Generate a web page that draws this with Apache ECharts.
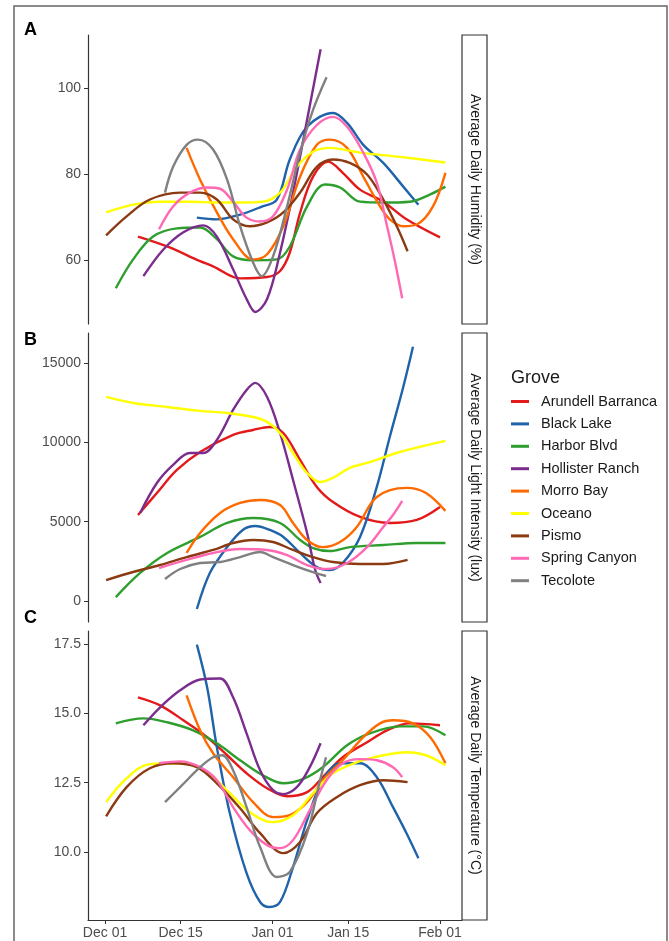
<!DOCTYPE html>
<html>
<head>
<meta charset="utf-8">
<script src="https://cdn.jsdelivr.net/npm/echarts@6/dist/echarts.min.js"></script>
<style>
  html, body { margin: 0; padding: 0; background: #fff; }
  #chart { width: 669px; height: 941px; }
</style>
</head>
<body>
<div id="chart"></div>
<script>
// days counted from Dec 01
const groves = ["Arundell Barranca", "Black Lake", "Harbor Blvd", "Hollister Ranch", "Morro Bay", "Oceano", "Pismo", "Spring Canyon", "Tecolote"]
const colors = ["#e31a1c", "#1f63ab", "#2e9e2e", "#7b2d8e", "#ff6a00", "#ffff00", "#8b3a12", "#ff69b4", "#808080"]
const tickDays = [0, 14, 31, 45, 62]
const tickLabels = ["Dec 01", "Dec 15", "Jan 01", "Jan 15", "Feb 01"]
const panelTitles = ["Average Daily Humidity (%)", "Average Daily Light Intensity (lux)", "Average Daily Temperature (°C)"]
const humTicks = [60, 80, 100]
const luxTicks = [0, 5000, 10000, 15000]
const tempTicks = [10, 12.5, 15, 17.5]

// A: humidity
const humArundell = [[6.1, 65.5], [11.5, 63.2], [17.6, 59.8], [20, 58.6], [25, 55.8], [30, 56.1], [32.4, 57.5], [34.2, 61.8], [36.1, 71], [38.5, 79.4], [41.3, 82.9], [44, 80.3], [47.2, 76.4], [51.5, 73.6], [55.8, 69.5], [62, 65.3]]
const humBlackLake = [[17, 69.9], [20.7, 69.5], [25, 70.6], [28.7, 72.3], [31.8, 74.1], [34.2, 83.4], [37.4, 91], [42.2, 94.2], [44.8, 91.9], [47.8, 86.8], [51.5, 82.6], [55.2, 77.1], [58, 72.9]]
const humHarbor = [[2, 53.5], [5.2, 60.2], [8.9, 65.5], [13.3, 67.4], [17.6, 67.6], [20.7, 64.9], [23.7, 60.9], [27.4, 60], [31.8, 60.2], [34.2, 63.2], [37.4, 72.5], [40.7, 77.6], [43.5, 76.9], [47.2, 73.6], [51.5, 73.4], [56.4, 73.6], [60.2, 75.3], [63, 77.1]]
const humHollister = [[7.1, 56.3], [10.8, 62.5], [14.5, 66.5], [18.2, 68.1], [20.7, 65.5], [23.7, 57.9], [26.2, 51], [27.8, 48], [30, 51], [32.4, 61.8], [34.8, 75.7], [37.4, 92.6], [39.9, 109]]
const humMorro = [[15.1, 86.1], [17.6, 78.7], [20.7, 71.1], [23.7, 64.9], [27.4, 60.2], [30, 61.4], [33, 67.9], [36.1, 79.4], [39.2, 86.8], [41.6, 88], [44.8, 86.1], [47.8, 79.4], [50.9, 72.5], [52.7, 69.5], [55.2, 67.9], [57.7, 68.3], [60.7, 72.5], [63, 80.3]]
const humOceano = [[0.2, 71.1], [5.2, 72.9], [10.2, 73.6], [15.7, 73.6], [20.7, 73.4], [25, 73.4], [29.2, 73.6], [32.4, 75.7], [35.5, 81.7], [38.5, 85.2], [41.6, 86.1], [47.2, 85], [54.6, 84], [63, 82.7]]
const humPismo = [[0.2, 65.8], [4, 70.2], [8.3, 74.1], [13.9, 75.7], [17.6, 75.7], [20.7, 74.1], [23.7, 69.5], [26.8, 67.9], [30, 68.8], [33, 71.1], [36.1, 75.7], [39.2, 81.7], [42.2, 83.4], [45.3, 82.6], [48.5, 79.9], [51.5, 74.1], [54, 67.9], [56, 62.1]]
const humSpring = [[10, 67.2], [12.6, 72.5], [15.7, 75.7], [18.9, 76.9], [21.3, 76.6], [23.7, 73.6], [26.2, 69.9], [28.7, 69], [31.1, 70.2], [33.7, 76.4], [36.1, 85.7], [39.2, 91.4], [42.2, 93.3], [44.8, 91], [47.8, 85], [50.3, 78], [52.2, 67.9], [53.7, 59.5], [55, 51.2]]
const humTecolote = [[11.1, 75.7], [12.6, 81.7], [15.1, 86.8], [17.2, 88], [20, 85.7], [22.6, 78.7], [25, 67.9], [27.4, 59.5], [29, 56.3], [31.1, 60.9], [33.7, 72.5], [36.1, 85], [38.5, 94.9], [41, 102.5]]

// B: light intensity
const luxArundell = [[6.1, 5420], [9.6, 6810], [13.3, 8260], [17.6, 9390], [23.7, 10470], [27.4, 10780], [30.5, 10970], [33, 10590], [36.1, 8890], [39.2, 7190], [42.2, 6240], [47.2, 5300], [52.7, 4920], [57.7, 5110], [62, 5930]]
const luxBlackLake = [[17, -500], [19.4, 1770], [22.6, 3400], [25.5, 4480], [27.8, 4730], [30.5, 4480], [33, 4040], [36.1, 3030], [39.2, 2140], [41.6, 1960], [44, 2400], [47.2, 4040], [50.3, 7190], [52.7, 10340], [55.2, 13490], [57, 16020]]
const luxHarbor = [[2, 250], [6.5, 1770], [11.5, 3030], [17.6, 4040], [22.6, 4920], [27.4, 5230], [32.4, 4920], [36.1, 3850], [38.5, 3340], [41.6, 3150], [45.3, 3400], [51.5, 3530], [57.7, 3660], [63, 3660]]
const luxHollister = [[6.5, 5550], [9.6, 7440], [12.6, 8580], [15.7, 9330], [18.2, 9330], [20.7, 10150], [23.7, 12040], [26.2, 13300], [27.8, 13750], [30, 12860], [32.4, 10590], [34.8, 7630], [37.4, 4290], [38.9, 1960], [39.9, 1140]]
const luxMorro = [[15.1, 3030], [17.6, 4290], [21.3, 5550], [25, 6180], [28.7, 6370], [32.4, 6050], [34.8, 4920], [37.4, 3850], [40.3, 3400], [43.5, 3720], [46.6, 4670], [50.3, 6560], [55.8, 7130], [59.4, 6810], [63, 5680]]
const luxOceano = [[0.2, 12860], [5.2, 12480], [11.5, 12230], [17.6, 11980], [22.6, 11850], [27.4, 11600], [30, 11290], [32.4, 10590], [34.8, 9330], [37.4, 8070], [39.8, 7500], [42.2, 7760], [45.3, 8390], [48.5, 8700], [54.6, 9390], [63, 10090]]
const luxPismo = [[0.2, 1320], [5.2, 1830], [10.2, 2270], [15.1, 2770], [20, 3220], [23.7, 3660], [27.4, 3850], [31.1, 3720], [34.8, 3220], [38.5, 2770], [42.2, 2460], [47.2, 2330], [51.5, 2330], [56, 2590]]
const luxSpring = [[10, 2080], [15.1, 2590], [20, 3030], [25, 3280], [30, 3220], [33.7, 2900], [37.4, 2270], [41, 2020], [44.8, 2400], [48.5, 3400], [51.5, 4670], [53.3, 5420], [55, 6310]]
const luxTecolote = [[11.1, 1390], [13.9, 2020], [17.6, 2400], [21.3, 2460], [25, 2770], [28.7, 3090], [31.1, 2770], [34.8, 2270], [37.9, 1890], [40.9, 1580]]

// C: temperature
const tempArundell = [[6.1, 15.58], [10.2, 15.29], [14.5, 14.75], [18.9, 14.14], [22.6, 13.49], [26.2, 12.84], [30, 12.3], [33.7, 12.01], [37.4, 12.16], [40.3, 12.7], [44, 13.42], [48.5, 13.96], [52.2, 14.39], [56.4, 14.64], [62, 14.57]]
const tempBlackLake = [[17, 17.48], [18.9, 15.94], [20.7, 13.78], [23.1, 11.4], [26.2, 9.24], [28.7, 8.2], [30.4, 8.02], [32.4, 8.2], [34.8, 9.46], [37.4, 11.15], [40.3, 12.59], [43.5, 13.2], [47.2, 13.2], [50.3, 12.7], [53.3, 11.62], [55.8, 10.68], [58, 9.78]]
const tempHarbor = [[2, 14.64], [7.1, 14.82], [11.5, 14.68], [16.3, 14.39], [20.7, 13.92], [25, 13.31], [29.2, 12.77], [33, 12.48], [36.6, 12.63], [40.3, 13.06], [44.8, 13.85], [49, 14.28], [54.6, 14.53], [58.9, 14.53], [63, 14.21]]
const tempHollister = [[7.1, 14.57], [10.2, 15.22], [13.9, 15.83], [17.6, 16.22], [21.3, 16.26], [23.7, 15.58], [26.2, 14.28], [28.7, 12.95], [31.1, 12.23], [33, 12.09], [35.5, 12.34], [37.9, 13.06], [39.9, 13.92]]
const tempMorro = [[15.1, 15.65], [17.6, 14.39], [20, 13.56], [23.7, 12.7], [27.4, 11.8], [31.1, 11.26], [34.2, 11.33], [37.4, 11.8], [40.3, 12.59], [44, 13.31], [47.8, 14.14], [50.9, 14.64], [53.3, 14.75], [57, 14.64], [60.2, 14.14], [63, 13.2]]
const tempOceano = [[0.2, 11.8], [4, 12.66], [8.3, 13.17], [13.9, 13.2], [18.9, 12.88], [23.1, 12.12], [26.8, 11.44], [30.9, 11.08], [34.8, 11.33], [38.5, 12.12], [42.2, 12.84], [46.6, 13.24], [51.5, 13.49], [55.8, 13.6], [59.4, 13.49], [63, 13.13]]
const tempPismo = [[0.2, 11.29], [4, 12.34], [8.3, 13.02], [12.6, 13.2], [17, 13.06], [20.7, 12.48], [25, 11.58], [28.7, 10.68], [33, 9.96], [36.1, 10.36], [39.2, 11.4], [42.9, 11.98], [47.2, 12.41], [51.5, 12.59], [56, 12.52]]
const tempSpring = [[10, 13.2], [13.9, 13.27], [17.6, 13.06], [20.7, 12.59], [23.7, 11.62], [26.8, 10.79], [30, 10.25], [32.4, 10.14], [34.8, 10.43], [37.9, 11.51], [41, 12.59], [44, 13.2], [47.2, 13.35], [50.3, 13.31], [53.3, 13.06], [55, 12.7]]
const tempTecolote = [[11.1, 11.8], [13.9, 12.34], [17.6, 13.06], [20, 13.42], [21.7, 13.49], [23.7, 12.95], [26.2, 11.62], [28.7, 10.18], [31.8, 9.1], [34.2, 9.28], [37.4, 10.68], [39.8, 12.59], [40.9, 13.42]]

const panels = [
  [humArundell, humBlackLake, humHarbor, humHollister, humMorro, humOceano, humPismo, humSpring, humTecolote],
  [luxArundell, luxBlackLake, luxHarbor, luxHollister, luxMorro, luxOceano, luxPismo, luxSpring, luxTecolote],
  [tempArundell, tempBlackLake, tempHarbor, tempHollister, tempMorro, tempOceano, tempPismo, tempSpring, tempTecolote]
]

const FONT = "Liberation Sans, Arial, sans-serif"
const gridTops = [35, 333, 631]
const gridH = 289
const yRanges = [[45.2, 112.3], [-1320, 16890], [7.55, 17.97]]
const yTicks = [humTicks, luxTicks, tempTicks]

const chart = echarts.init(document.getElementById("chart"), null, { renderer: "canvas" })

const grid = gridTops.map((t) => ({ left: 88, top: t, width: 374, height: gridH }))

const xAxis = gridTops.map((t, i) => ({
  type: "value",
  gridIndex: i,
  min: -3.15,
  max: 66.07,
  show: i === 2,
  splitLine: { show: false },
  axisLine: { show: i === 2, onZero: false, lineStyle: { color: "#333", width: 1.2 } },
  axisTick: { show: i === 2, length: 4, customValues: tickDays, lineStyle: { color: "#333" } },
  axisLabel: {
    show: i === 2,
    customValues: tickDays,
    color: "#4d4d4d",
    fontSize: 14,
    fontFamily: FONT,
    margin: 6,
    formatter: (v) => tickLabels[tickDays.indexOf(Math.round(v))] || ""
  }
}))

const yAxis = gridTops.map((t, i) => ({
  type: "value",
  gridIndex: i,
  min: yRanges[i][0],
  max: yRanges[i][1],
  splitLine: { show: false },
  axisLine: { show: true, onZero: false, lineStyle: { color: "#333", width: 1.2 } },
  axisTick: { show: true, length: 4, customValues: yTicks[i], lineStyle: { color: "#333" } },
  axisLabel: {
    customValues: yTicks[i],
    color: "#4d4d4d",
    fontSize: 14,
    fontFamily: FONT,
    margin: 7,
    formatter: (v) => (i === 2 ? v.toFixed(1) : String(Math.round(v)))
  }
}))

const series = []
panels.forEach((panel, p) => {
  panel.forEach((pts, g) => {
    series.push({
      name: groves[g],
      type: "line",
      xAxisIndex: p,
      yAxisIndex: p,
      data: pts,
      smooth: 0.35,
      showSymbol: false,
      symbol: "none",
      clip: true,
      lineStyle: { color: colors[g], width: 2.4 },
      itemStyle: { color: colors[g] },
      emphasis: { disabled: true },
      z: 2
    })
  })
})

// facet strips, panel letters, outer frame
const graphic = [
  { type: "rect", shape: { x: 14, y: 6, width: 653, height: 1000 }, style: { fill: "none", stroke: "#666", lineWidth: 1.5 }, silent: true }
]
gridTops.forEach((t, i) => {
  graphic.push({
    type: "rect",
    shape: { x: 462, y: t, width: 25, height: gridH },
    style: { fill: "#fff", stroke: "#333", lineWidth: 1.2 }
  })
  graphic.push({
    type: "text",
    x: 475,
    y: t + gridH / 2,
    rotation: -Math.PI / 2,
    style: { text: panelTitles[i], fill: "#1a1a1a", font: "14px " + FONT, align: "center", verticalAlign: "middle" }
  })
})
;["A", "B", "C"].forEach((l, i) => {
  graphic.push({
    type: "text",
    x: 24,
    y: [30, 340, 618][i],
    style: { text: l, fill: "#000", font: "bold 18px " + FONT, verticalAlign: "middle" }
  })
})
graphic.push({
  type: "text",
  x: 511,
  y: 378,
  style: { text: "Grove", fill: "#1a1a1a", font: "18px " + FONT, verticalAlign: "middle" }
})

const options = {
  animation: false,
  backgroundColor: "#fff",
  grid: grid,
  xAxis: xAxis,
  yAxis: yAxis,
  legend: {
    data: groves,
    orient: "vertical",
    left: 511,
    top: 394,
    padding: 0,
    icon: "rect",
    itemWidth: 18,
    itemHeight: 3,
    itemGap: 7.4,
    selectedMode: false,
    textStyle: { color: "#1a1a1a", fontSize: 14.5, fontFamily: FONT, lineHeight: 14, padding: [0, 0, 0, 7] }
  },
  graphic: graphic,
  series: series
}
chart.setOption(options)
</script>
</body>
</html>
